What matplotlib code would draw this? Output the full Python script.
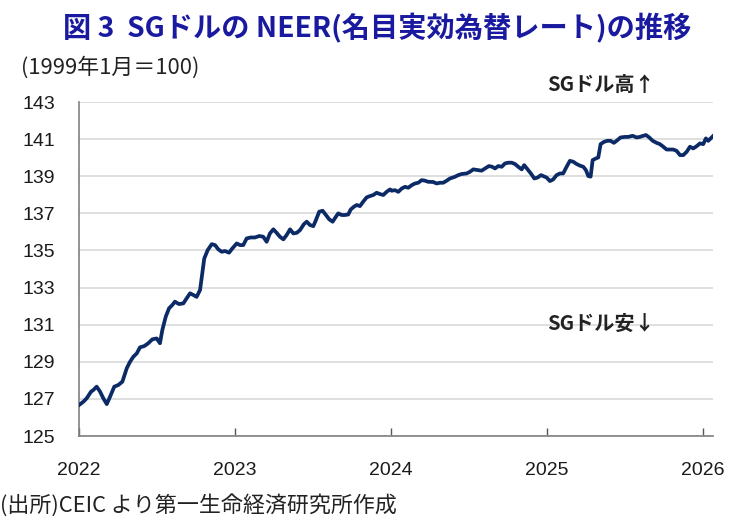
import matplotlib
matplotlib.use("Agg")
import matplotlib.pyplot as plt
import numpy as np

plt.rcParams['font.family'] = ['Noto Sans CJK JP', 'DejaVu Sans']

# Decimal-year time axis and NEER values (1999 Jan = 100)
years = [
    2022.000, 2022.028, 2022.049, 2022.077, 2022.092, 2022.113, 2022.135, 2022.156, 2022.178, 2022.199,
    2022.226, 2022.252, 2022.278, 2022.306, 2022.327, 2022.348, 2022.370, 2022.391, 2022.419, 2022.444,
    2022.470, 2022.498, 2022.519, 2022.534, 2022.556, 2022.577, 2022.598, 2022.615, 2022.641, 2022.669,
    2022.690, 2022.712, 2022.733, 2022.754, 2022.776, 2022.790, 2022.803, 2022.825, 2022.851, 2022.872,
    2022.893, 2022.915, 2022.936, 2022.962, 2022.983,
    2023.011, 2023.032, 2023.053, 2023.075, 2023.101, 2023.128, 2023.156, 2023.181, 2023.203, 2023.224,
    2023.246, 2023.267, 2023.288, 2023.310, 2023.331, 2023.353, 2023.374, 2023.396, 2023.417, 2023.442,
    2023.460, 2023.481, 2023.502, 2023.519, 2023.540, 2023.562, 2023.583, 2023.604, 2023.626, 2023.647,
    2023.662, 2023.684, 2023.705, 2023.726, 2023.742, 2023.763, 2023.780, 2023.801, 2023.822, 2023.844,
    2023.865, 2023.887, 2023.908, 2023.929, 2023.951, 2023.972, 2023.994,
    2024.004, 2024.026, 2024.047, 2024.069, 2024.090, 2024.111, 2024.133, 2024.154, 2024.175, 2024.197,
    2024.218, 2024.239, 2024.271, 2024.293, 2024.314, 2024.335, 2024.357, 2024.378, 2024.410, 2024.431,
    2024.453, 2024.485, 2024.506, 2024.528, 2024.560, 2024.581, 2024.603, 2024.628, 2024.649, 2024.667,
    2024.688, 2024.710, 2024.731, 2024.752, 2024.774, 2024.795, 2024.816, 2024.838, 2024.854, 2024.876,
    2024.897, 2024.919, 2024.940, 2024.962, 2024.976, 2024.998,
    2025.019, 2025.040, 2025.062, 2025.083, 2025.104, 2025.126, 2025.147, 2025.169, 2025.190, 2025.212,
    2025.233, 2025.250, 2025.265, 2025.280, 2025.293, 2025.314, 2025.329, 2025.344, 2025.365, 2025.387,
    2025.408, 2025.429, 2025.451, 2025.472, 2025.500, 2025.521, 2025.549, 2025.575, 2025.596, 2025.617,
    2025.635, 2025.656, 2025.678, 2025.703, 2025.724, 2025.746, 2025.767, 2025.788, 2025.810, 2025.831,
    2025.853, 2025.874, 2025.896, 2025.917, 2025.938, 2025.960, 2025.981, 2026.002, 2026.019, 2026.034,
    2026.056, 2026.067,
]
neer = [
    126.67, 126.85, 127.03, 127.39, 127.48, 127.66, 127.39, 127.03, 126.72, 127.12,
    127.66, 127.75, 127.93, 128.65, 129.00, 129.27, 129.45, 129.78, 129.85, 130.00,
    130.21, 130.26, 130.00, 130.71, 131.43, 131.88, 132.06, 132.24, 132.11, 132.15,
    132.42, 132.69, 132.60, 132.50, 132.87, 133.77, 134.57, 135.02, 135.34, 135.29,
    135.06, 134.93, 134.97, 134.88, 135.11,
    135.38, 135.29, 135.29, 135.65, 135.70, 135.70, 135.78, 135.74, 135.47, 135.92,
    136.14, 135.95, 135.74, 135.60, 135.83, 136.14, 135.92, 135.95, 136.10, 136.42,
    136.55, 136.37, 136.31, 136.64, 137.09, 137.14, 136.91, 136.68, 136.55, 136.82,
    137.00, 136.91, 136.91, 136.94, 137.21, 137.36, 137.45, 137.39, 137.63, 137.86,
    137.93, 137.99, 138.11, 138.04, 137.99, 138.16, 138.29,
    138.22, 138.25, 138.16, 138.34, 138.43, 138.38, 138.52, 138.61, 138.65, 138.79,
    138.76, 138.70, 138.69, 138.61, 138.65, 138.65, 138.76, 138.88, 138.97, 139.06,
    139.12, 139.15, 139.24, 139.37, 139.33, 139.30, 139.42, 139.55, 139.51, 139.42,
    139.55, 139.51, 139.69, 139.73, 139.73, 139.66, 139.51, 139.37, 139.60, 139.37,
    139.15, 138.88, 138.93, 139.06, 139.01, 138.93,
    138.74, 138.83, 139.06, 139.15, 139.15, 139.51, 139.83, 139.78, 139.66, 139.57,
    139.51, 139.33, 139.01, 138.98, 139.87, 139.96, 140.01, 140.73, 140.85, 140.91,
    140.91, 140.80, 140.94, 141.09, 141.12, 141.12, 141.18, 141.09, 141.12, 141.18,
    141.22, 141.09, 140.91, 140.80, 140.73, 140.59, 140.44, 140.44, 140.44, 140.37,
    140.14, 140.14, 140.32, 140.59, 140.50, 140.62, 140.77, 140.73, 141.04, 140.91,
    141.09, 141.18,
]
year_ticks = [2022, 2023, 2024, 2025, 2026]
y_ticks = [125, 127, 129, 131, 133, 135, 137, 139, 141, 143]

title = "図 3  SGドルの NEER(名目実効為替レート)の推移"
unit_label = "(1999年1月＝100)"
up_label = "SGドル高↑"
down_label = "SGドル安↓"
source = "(出所)CEIC より第一生命経済研究所作成"

fig = plt.figure(figsize=(7.33, 5.2), dpi=100)
ax = fig.add_axes([0.1078, 0.1615, 0.8650, 0.6423])

ax.plot(years, neer, color='#0c2a66', lw=2.7, solid_joinstyle='round', zorder=3)

ax.set_xlim(2022, 2026.065)
ax.set_ylim(125, 143)
ax.set_yticks(y_ticks)
ax.set_xticks(year_ticks)
ax.set_xticklabels([str(y) for y in year_ticks])
ax.grid(axis='y', color='#d9d9d9', lw=1.2, zorder=0)
ax.set_axisbelow(True)

for s in ['top', 'right']:
    ax.spines[s].set_visible(False)
for s in ['left', 'bottom']:
    ax.spines[s].set_color('#808080')
    ax.spines[s].set_linewidth(1.2)

ax.tick_params(axis='y', length=0, pad=17, labelsize=14, labelcolor='#1a1a1a')
ax.tick_params(axis='x', direction='in', length=6, width=1.0, color='#555555',
               pad=19, labelsize=14, labelcolor='#1a1a1a')
for lab in ax.get_xticklabels() + ax.get_yticklabels():
    lab.set_fontfamily(['Liberation Sans', 'DejaVu Sans'])

fig.text(0.515, 0.946, title, ha='center', va='center', fontsize=20.3,
         fontweight='bold', color='#1a1aa0')
fig.text(0.028, 0.871, unit_label, ha='left', va='center', fontsize=15.8, color='#222222')
fig.text(0.746, 0.838, up_label, ha='left', va='center', fontsize=14.5,
         fontweight='bold', color='#222222')
fig.text(0.746, 0.379, down_label, ha='left', va='center', fontsize=14.5,
         fontweight='bold', color='#222222')
fig.text(0.0, 0.028, source, ha='left', va='center', fontsize=15.8, color='#222222')

fig.savefig('out.png', dpi=100)
